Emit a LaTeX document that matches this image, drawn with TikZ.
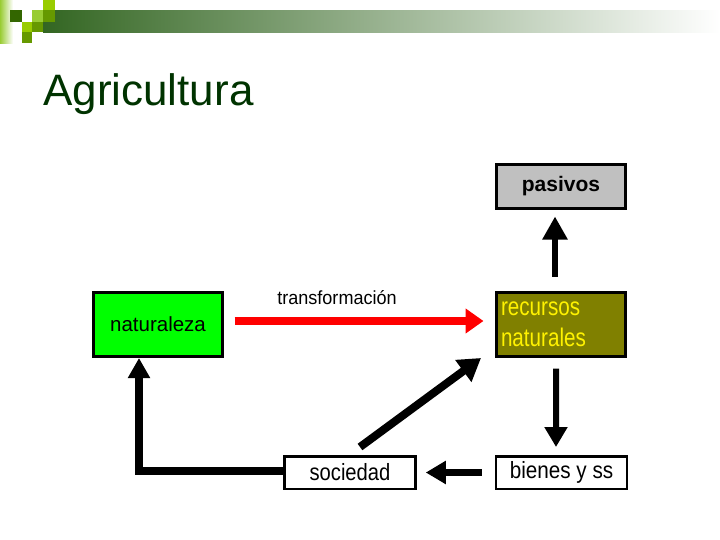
\documentclass[tikz,border=0pt]{standalone}
\usepackage{fontspec}
\setmainfont{Liberation Sans}
\usepackage{graphicx}
\usepackage{tikz}
\usetikzlibrary{arrows.meta,calc,positioning}
\definecolor{titlegreen}{RGB}{0,51,0}
\definecolor{bargreen}{RGB}{51,102,34}
\definecolor{barmid}{RGB}{172,184,166}
\definecolor{lightleaf}{RGB}{153,204,0}
\definecolor{paleleaf}{RGB}{153,204,51}
\definecolor{midleaf}{RGB}{102,153,0}
\definecolor{darkleaf}{RGB}{51,102,0}
\definecolor{natgreen}{RGB}{0,255,0}
\definecolor{olivebox}{RGB}{128,128,0}
\definecolor{greybox}{RGB}{192,192,192}
\newcommand{\squeeze}[2]{\scalebox{#1}[1]{#2}}

\begin{document}
\begin{tikzpicture}[x=10bp,y=-10bp,
  box/.style={draw,line width=3bp,minimum width=129bp,minimum height=64bp,inner sep=0pt,
    font=\fontsize{20.5bp}{24bp}\selectfont},
  smallbox/.style={box,line width=2.5bp,minimum width=131bp,minimum height=32.5bp,
    font=\fontsize{23.5bp}{26bp}\selectfont},
  flow/.style={line width=6bp,-{Triangle[length=20bp,width=22bp]}}]
  \useasboundingbox (0,0) rectangle (72,54);
  % header bar and squares
  \shade[left color=bargreen,middle color=barmid,right color=white] (4.3,1.0) rectangle (72,3.2);
  \shade[left color=paleleaf,right color=white] (0,0) rectangle (1.3,4.3);
  \fill[darkleaf] (1.0,1.0) rectangle (2.2,2.2);
  \fill[lightleaf] (4.3,0) rectangle (5.5,1.0);
  \fill[paleleaf] (3.2,1.0) rectangle (4.3,2.2);
  \fill[midleaf] (4.3,1.0) rectangle (5.5,2.2);
  \fill[lightleaf] (2.2,2.2) rectangle (3.2,3.2);
  \fill[midleaf] (3.2,2.2) rectangle (4.3,3.2);
  \fill[midleaf] (2.2,3.2) rectangle (3.2,4.3);
  \node[anchor=base west,inner sep=0pt,text=titlegreen,font=\fontsize{44bp}{50bp}\selectfont]
    (title) at (4.3,10.5) {Agricultura};
  % boxes
  \node[box,fill=natgreen] (nat) at (15.8,32.45) {naturaleza};
  \node[box,fill=greybox,minimum height=44bp,font=\fontsize{21bp}{24bp}\selectfont\bfseries]
    (pas) at (56.1,18.65) {pasivos};
  \node[box,fill=olivebox,text=yellow,text width=120bp,align=left,
    font=\fontsize{25.5bp}{31bp}\selectfont] (rec) at (56.1,32.45)
    {\squeeze{0.81}{recursos}\\\squeeze{0.81}{naturales}};
  \node[smallbox,fill=white] (soc) at (35.0,47.25) {\squeeze{0.86}{sociedad}};
  \node[smallbox,fill=white] (bie) at (56.15,47.25) {\squeeze{0.88}{bienes y ss}};
  \node[font=\fontsize{19bp}{21bp}\selectfont] (trf) at (33.7,29.8) {\squeeze{0.95}{transformación}};
  % arrows
  \draw[flow,red,line width=8bp,-{Triangle[length=18bp,width=24bp]},shorten <=10.5bp,shorten >=11.5bp]
    ([yshift=3.5bp]nat.east) -- ([yshift=3.5bp]rec.west);
  \draw[flow,line width=5.5bp,-{Triangle[length=23bp,width=24bp]},shorten <=14.5bp,shorten >=6.5bp]
    ([xshift=-6bp]rec.north) -- ([xshift=-6bp]pas.south);
  \draw[flow,shorten <=10.5bp,shorten >=8bp] ([xshift=-5bp]rec.south) -- ([xshift=-5.5bp]bie.north);
  \draw[flow,line width=7bp,shorten <=13bp,shorten >=9bp] (bie.west) -- (soc.east);
  \draw[flow,line width=8bp,-{Triangle[length=22bp,width=26bp]}]
    ([xshift=10bp,yshift=8bp]soc.north) -- ([xshift=-14bp]rec.south west);
  \draw[flow,line width=8bp,-{Triangle[length=20bp,width=21bp]}]
    ([yshift=1.5bp]soc.west) -| ([xshift=-19bp]nat.south);
\end{tikzpicture}
\end{document}
